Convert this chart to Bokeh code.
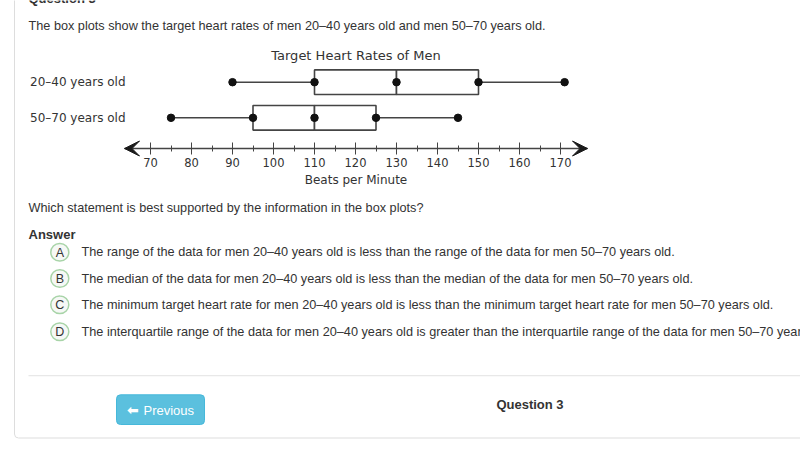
from bokeh.plotting import figure
from bokeh.models import (ColumnDataSource, Range1d, FixedTicker, Label,
                          BoxAnnotation, Arrow, VeeHead)
from bokeh.embed import file_html
from bokeh.resources import INLINE

# ---------------- data ----------------
groups = ["20–40 years old", "50–70 years old"]
mins = [90, 75]
q1 = [110, 95]
medians = [130, 110]
q3 = [150, 125]
maxs = [171, 145]

major_ticks = [70, 80, 90, 100, 110, 120, 130, 140, 150, 160, 170]
minor_ticks = [75, 85, 95, 105, 115, 125, 135, 145, 155, 165]

chart_title = "Target Heart Rates of Men"
x_label = "Beats per Minute"
heading = "Question 3"
intro = "The box plots show the target heart rates of men 20–40 years old and men 50–70 years old."
question = "Which statement is best supported by the information in the box plots?"
answer_heading = "Answer"
letters = ["A", "B", "C", "D"]
options = [
    "The range of the data for men 20–40 years old is less than the range of the data for men 50–70 years old.",
    "The median of the data for men 20–40 years old is less than the median of the data for men 50–70 years old.",
    "The minimum target heart rate for men 20–40 years old is less than the minimum target heart rate for men 50–70 years old.",
    "The interquartile range of the data for men 20–40 years old is greater than the interquartile range of the data for men 50–70 years old.",
]
footer_label = "Question 3"
button_label = "Previous"

# ---------------- layout (page pixels) ----------------
W, H = 800, 450
PX_PER_UNIT = 4.1          # px per beat
ROW_PX = 35.6              # px between the two rows
BODY = "12.7px"


def xdata(X):              # page x -> beats
    return 70 + (X - 150) / PX_PER_UNIT


def ydata(Y):              # page y -> row units (row 0 at page y 117.3)
    return (117.3 - Y) / ROW_PX


p = figure(width=W, height=H, output_backend="svg", toolbar_location=None,
           x_range=Range1d(xdata(0), xdata(W)), y_range=Range1d(ydata(H), ydata(0)),
           min_border=0, min_border_left=0, min_border_right=0,
           min_border_top=0, min_border_bottom=0)
p.grid.visible = False
p.outline_line_color = None
p.background_fill_color = "white"
p.border_fill_color = "white"

rows = [len(groups) - 1 - i for i in range(len(groups))]
src = ColumnDataSource(dict(row=rows, mins=mins, q1=q1, med=medians, q3=q3, maxs=maxs))
LC = "#444444"


def sx(X):
    return X


def sy(Y):
    return H - Y


def box(left, right, top, bottom, fill="white", fill_alpha=1.0, line=None, lw=1, radius=0, level="underlay"):
    p.add_layout(BoxAnnotation(left=sx(left), right=sx(right), top=sy(top), bottom=sy(bottom),
                               left_units="screen", right_units="screen",
                               top_units="screen", bottom_units="screen",
                               fill_color=fill, fill_alpha=fill_alpha,
                               line_color=line if line else "white", line_alpha=1.0 if line else 0.0,
                               line_width=lw, border_radius=radius, level=level))


def text(t, X, Y, size=BODY, font="Liberation Sans", style="normal", color="#333333", align="left"):
    p.add_layout(Label(x=sx(X), y=sy(Y), x_units="screen", y_units="screen", text=t,
                       text_font=font, text_font_size=size, text_font_style=style,
                       text_color=color, text_align=align, text_baseline="middle"))


# page card, separator, button
box(14, 1000, -40, 437.5, fill="white", fill_alpha=0, line="#dddddd", lw=1, radius=4)
box(28, 1000, 374.5, 375.8, fill="#e8e8e8")
box(116, 204, 394.3, 424, fill="#5bc0de", line="#46b8da", lw=1, radius=4)

# box plots
p.segment(x0="mins", y0="row", x1="q1", y1="row", source=src, line_color=LC, line_width=1.6)
p.segment(x0="q3", y0="row", x1="maxs", y1="row", source=src, line_color=LC, line_width=1.6)
p.hbar(y="row", left="q1", right="med", height=0.69, source=src,
       fill_color="white", line_color=LC, line_width=1.6)
p.hbar(y="row", left="med", right="q3", height=0.69, source=src,
       fill_color="white", line_color=LC, line_width=1.6)
for col in ["mins", "q1", "med", "q3", "maxs"]:
    p.scatter(x=col, y="row", source=src, size=7.5, fill_color="#111111", line_color="#111111")

# number line axis
ax = p.xaxis[0]
ax.fixed_location = ydata(148)
ax.bounds = (xdata(124), xdata(587))
ax.ticker = FixedTicker(ticks=major_ticks, minor_ticks=minor_ticks)
ax.axis_line_color = LC
ax.axis_line_width = 1.5
ax.major_tick_in = 6
ax.major_tick_out = 6
ax.minor_tick_in = 3
ax.minor_tick_out = 3
ax.major_tick_line_color = LC
ax.minor_tick_line_color = LC
ax.major_label_text_font = "DejaVu Sans"
ax.major_label_text_font_size = "11.5px"
ax.major_label_text_color = "#333333"
ax.major_label_standoff = 3
ax.axis_label = x_label
ax.axis_label_text_font = "DejaVu Sans"
ax.axis_label_text_font_size = "12px"
ax.axis_label_text_font_style = "normal"
ax.axis_label_text_color = "#333333"
ax.axis_label_standoff = 3

for xs, xe in [(141, 124), (570, 587)]:
    p.add_layout(Arrow(end=VeeHead(size=15, fill_color="#1a1a1a", line_color="#1a1a1a"),
                       x_start=xdata(xs), y_start=ydata(148), x_end=xdata(xe), y_end=ydata(148),
                       line_alpha=0))

# row labels as the category axis
ay = p.yaxis[0]
ay.fixed_location = xdata(125)
ay.ticker = FixedTicker(ticks=rows, minor_ticks=[])
ay.major_label_overrides = {r: g for r, g in zip(rows, groups)}
ay.axis_line_color = None
ay.major_tick_line_color = None
ay.minor_tick_line_color = None
ay.major_tick_in = 0
ay.major_tick_out = 0
ay.major_label_standoff = 0
ay.major_label_text_font = "DejaVu Sans"
ay.major_label_text_font_size = "12px"
ay.major_label_text_color = "#333333"

# texts
text(heading, 28, -1.8, size="13px", style="bold")
text(intro, 28, 25.5)
text(chart_title, 355.5, 54.5, size="13px", font="DejaVu Sans", align="center")
text(question, 28, 207)
text(answer_heading, 28, 234, size="13px", style="bold")
opt_y = [251.7, 278.0, 304.3, 331.3]
for letter, opt, yy in zip(letters, options, opt_y):
    box(50.3, 68.3, yy - 8.8, yy + 8.8, fill="#f6f8f6", line="#a8d4a8", lw=1.5, radius=9)
    text(letter, 59.3, yy + 0.3, size="12.5px", align="center")
    text(opt, 81, yy)
text(footer_label, 529.5, 404, size="13px", style="bold", align="center")
text("⬅", 126.5, 409.5, size="14px", font="DejaVu Sans", style="bold", color="white")
text(button_label, 143, 409.5, size="13px", color="white")

open("out.html", "w").write(file_html(p, INLINE))
